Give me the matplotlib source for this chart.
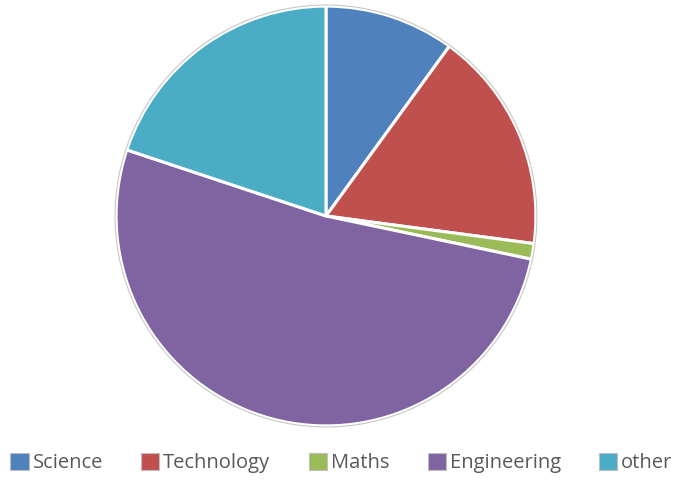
import matplotlib.pyplot as plt
from matplotlib.patches import Patch, Circle

labels = ['Science', 'Technology', 'Maths', 'Engineering', 'other']
values = [10.0, 17.1, 1.2, 51.8, 19.9]
colors = ['#4F81BD', '#C0504D', '#9BBB59', '#8064A2', '#4BACC6']

fig = plt.figure(figsize=(6.73, 4.84), dpi=100)
ax = fig.add_axes([(326 - 212) / 673, (484 - 428) / 484, 424 / 673, 424 / 484])

ax.pie(values, colors=colors, startangle=90, counterclock=False,
       wedgeprops=dict(edgecolor='white', linewidth=2.2))
ax.add_patch(Circle((0, 0), 1.005, fill=False, edgecolor='#c8c8c8', linewidth=0.8))
ax.set_xlim(-1.01, 1.01)
ax.set_ylim(-1.01, 1.01)
ax.set_aspect('equal')

handles = [Patch(facecolor=c, edgecolor='#bfbfbf', linewidth=0.8) for c in colors]
fig.legend(handles, labels, loc='center', bbox_to_anchor=(0.5 + 5 / 673, 1 - 463 / 484), ncol=5,
           frameon=False, handlelength=0.9, handleheight=0.9,
           handletextpad=0.2, columnspacing=1.9, labelcolor='#595959',
           prop={'family': 'Open Sans', 'size': 14.5})

fig.savefig('out.png', dpi=100)
